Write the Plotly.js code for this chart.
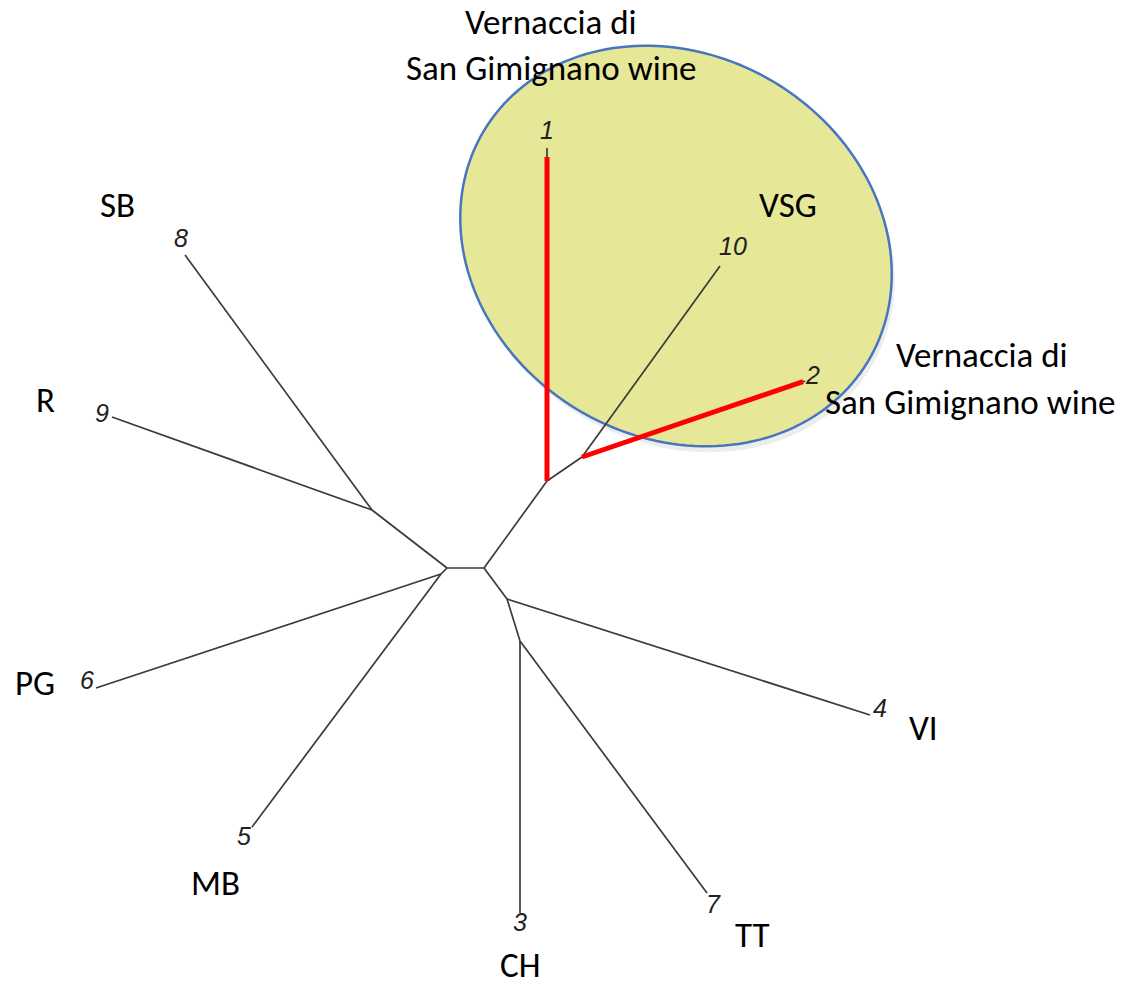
<!DOCTYPE html>
<html>
<head>
<meta charset="utf-8">
<script src="https://cdn.plot.ly/plotly-3.0.1.min.js"></script>
<style>html,body{margin:0;padding:0;background:#fff;}#chart{width:1139px;height:989px;}</style>
</head>
<body>
<div id="chart"></div>
<script>
// Node layout of the unrooted tree (pixel space of the figure)
const nodeIds = ['1','2','3','4','5','6','7','8','9','10','A','B','C','D','E','F','G','H'];
const nodeX   = [547, 805, 520, 870, 252,  96, 707, 185, 112, 720, 447, 484, 547, 582, 372, 441, 507, 520];
const nodeY   = [148, 381, 913, 715, 827, 688, 893, 255, 417, 266, 568, 568, 481, 457, 510, 574, 599, 641];

// Branches (parent -> child)
const edgeFrom = ['A','B','C','C','D','D','A','E','E','A','F','F','B','G','G','H','H'];
const edgeTo   = ['B','C','1','D','2','10','E','8','9','F','6','5','G','4','H','3','7'];

// Highlighted branches (Vernaccia di San Gimignano wines)
const redFrom = ['C','D'];
const redTo   = ['1','2'];
const redTrim = [9, 2];   // branch tip left unhighlighted

// Tip labels
const tipIds  = ['1','2','3','4','5','6','7','8','9','10'];
const tipLabX = [547, 812, 520, 880, 244,  87, 713, 181, 102, 733];
const tipLabY = [130, 375, 922, 708, 836, 680, 904, 238, 413, 246];

// Group labels
const groupText = ['SB','R','PG','MB','CH','TT','VI','VSG','Vernaccia di','San Gimignano wine','Vernaccia di','San Gimignano wine'];
const groupX    = [117,  45,  35, 215, 520, 752, 923, 788, 551, 551, 982, 970];
const groupY    = [205, 400, 683, 883, 965, 935, 728, 205,  22,  68, 355, 402];

// Highlight ellipse (centre, semi-axes, rotation in degrees)
const ellCx = 676, ellCy = 246, ellA = 224, ellB = 191, ellRot = 31;

const pos = {};
nodeIds.forEach((id, i) => pos[id] = [nodeX[i], nodeY[i]]);

const ex = [], ey = [];
edgeFrom.forEach((f, i) => {
  const t = edgeTo[i];
  ex.push(pos[f][0], pos[t][0], null);
  ey.push(pos[f][1], pos[t][1], null);
});

const rx = [], ry = [];
redFrom.forEach((f, i) => {
  const t = redTo[i];
  const [x0, y0] = pos[f], [x1, y1] = pos[t];
  const L = Math.hypot(x1 - x0, y1 - y0);
  const k = (L - redTrim[i]) / L;
  rx.push(x0, x0 + (x1 - x0) * k, null);
  ry.push(y0, y0 + (y1 - y0) * k, null);
});

function ellipsePath(cx, cy, a, b, rotDeg, n) {
  const th = rotDeg * Math.PI / 180;
  let p = '';
  for (let i = 0; i <= n; i++) {
    const t = 2 * Math.PI * i / n;
    const x = cx + a * Math.cos(th) * Math.cos(t) - b * Math.sin(th) * Math.sin(t);
    const y = cy + a * Math.sin(th) * Math.cos(t) + b * Math.cos(th) * Math.sin(t);
    p += (i === 0 ? 'M' : 'L') + x.toFixed(2) + ',' + y.toFixed(2);
  }
  return p + 'Z';
}

const traces = [
  {x: ex, y: ey, mode: 'lines', type: 'scatter', line: {color: '#3a3a3a', width: 1.7}, hoverinfo: 'skip', showlegend: false},
  {x: rx, y: ry, mode: 'lines', type: 'scatter', line: {color: '#ff0000', width: 5}, hoverinfo: 'skip', showlegend: false}
];

const annotations = [];
tipIds.forEach((t, i) => annotations.push({
  x: tipLabX[i], y: tipLabY[i], xref: 'x', yref: 'y', showarrow: false,
  text: '<i>' + t + '</i>', font: {family: 'Liberation Sans, Arial, sans-serif', size: 25, color: '#222'}
}));
groupText.forEach((t, i) => annotations.push({
  x: groupX[i], y: groupY[i], xref: 'x', yref: 'y', showarrow: false,
  text: t, font: {family: 'Carlito, Lato, sans-serif', size: 35, color: '#000'}
}));

const shapes = [
  {type: 'path', path: ellipsePath(ellCx + 3, ellCy + 6, ellA, ellB, ellRot, 180), xref: 'x', yref: 'y',
   fillcolor: 'rgba(0,0,0,0.07)', line: {width: 0}, layer: 'below'},
  {type: 'path', path: ellipsePath(ellCx, ellCy, ellA, ellB, ellRot, 180), xref: 'x', yref: 'y',
   fillcolor: '#e7e798', line: {color: '#4677be', width: 2.5}, layer: 'below'}
];

const layout = {
  width: 1139, height: 989,
  margin: {l: 0, r: 0, t: 0, b: 0},
  paper_bgcolor: '#ffffff', plot_bgcolor: '#ffffff',
  xaxis: {range: [0, 1139], visible: false, fixedrange: true},
  yaxis: {range: [989, 0], visible: false, fixedrange: true},
  shapes: shapes, annotations: annotations, showlegend: false
};

Plotly.newPlot('chart', traces, layout, {staticPlot: true, displayModeBar: false});
</script>
</body>
</html>
